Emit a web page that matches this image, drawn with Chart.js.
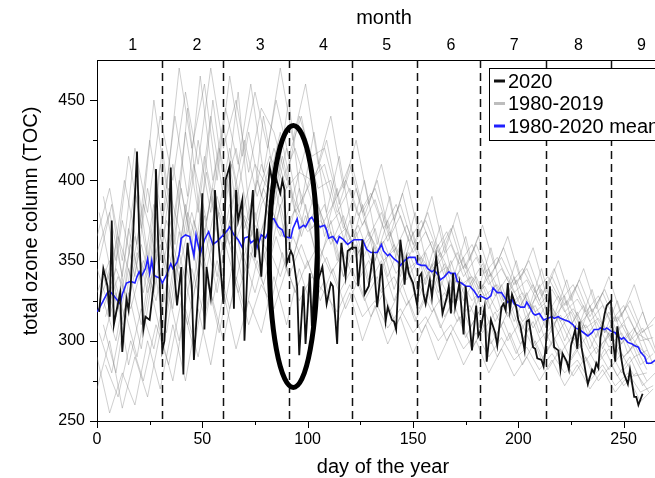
<!DOCTYPE html>
<html>
<head>
<meta charset="utf-8">
<script src="https://cdn.jsdelivr.net/npm/chart.js@4.4.1/dist/chart.umd.min.js"></script>
<style>
  html, body { margin: 0; padding: 0; background: #fff; overflow: hidden; }
  #wrap { width: 655px; height: 478px; overflow: hidden; }
  canvas { display: block; }
</style>
</head>
<body>
<div id="wrap"><canvas id="toc" width="670" height="478"></canvas></div>
<script>
// 2020 daily total ozone column
const days2020 = [1,3,5,6,7,8,9,11,12,14,15,16,19,20,22,23,25,27,28,29,31,32,33,35,36,38,40,41,42,43,45,46,48,50,51,52,54,55,56,58,60,61,63,65,66,67,69,70,72,74,75,76,78,79,82,84,85,87,88,89,90,92,93,95,96,98,99,101,102,104,105,107,109,111,112,114,115,116,118,119,121,123,124,126,127,129,131,133,135,137,138,140,141,142,144,145,146,147,148,150,152,153,154,155,156,158,159,160,161,163,164,166,167,168,169,170,172,174,175,177,178,180,181,182,184,185,187,189,190,192,193,194,195,196,197,199,200,201,203,204,205,207,208,209,211,212,213,215,216,217,219,220,221,223,224,225,227,228,229,230,232,233,235,236,237,238,239,241,242,244,245,246,247,249,250,252,253,255,256,257,259];
const toc2020 = [318,345,334,315,375,310,317,330,293,326,319,334,418,367,307,315,313,336,407,363,294,300,324,408,354,322,346,279,340,361,334,288,329,392,307,346,327,346,394,356,323,400,409,320,394,375,388,300,363,394,352,370,340,363,408,394,401,392,400,394,348,356,353,334,291,334,298,342,309,356,338,346,323,336,334,298,336,361,340,356,358,358,334,363,329,334,354,321,348,312,321,313,312,307,363,352,335,350,342,336,322,340,342,329,323,338,327,340,352,331,317,327,334,317,342,321,336,304,334,309,294,322,303,306,321,287,313,305,297,321,323,319,336,319,329,321,313,309,294,312,313,296,295,289,288,284,296,334,311,296,294,282,292,287,282,297,307,295,312,296,280,273,282,280,286,283,302,317,322,325,300,287,309,288,280,273,282,265,265,260,267];

// 1980-2020 mean
const meanDays = [0,1,3,5,6,8,11,12,14,16,18,19,20,21,23,24,25,26,27,28,30,31,33,35,36,38,39,40,42,44,46,47,49,51,53,55,57,60,62,63,65,67,69,70,72,73,75,76,78,80,81,83,84,86,88,89,92,93,95,96,98,99,101,102,104,106,108,109,110,112,114,115,117,119,122,123,125,126,128,130,133,135,136,138,139,141,143,144,146,148,151,152,154,156,157,159,160,162,163,165,167,168,170,171,173,175,177,179,181,182,185,187,188,190,192,193,195,197,198,200,201,203,204,205,207,208,210,212,214,216,217,219,220,222,224,226,227,229,231,233,235,236,238,239,241,242,244,246,247,249,250,252,254,255,257,258,260,261,263,265];
const tocMean = [318,320,325,330,331,328,323,329,336,337,336,340,343,340,345,351,342,350,341,340,339,336,341,348,345,349,354,364,366,365,353,366,354,363,368,360,362,366,369,371,366,363,358,364,365,361,363,358,366,364,367,376,376,371,369,365,364,370,376,370,372,371,376,377,372,371,372,369,364,365,361,365,363,360,363,363,363,363,357,355,355,360,356,353,354,351,349,347,350,352,352,348,347,347,345,343,344,341,338,340,343,342,342,337,336,334,334,331,327,328,326,328,333,330,330,328,324,326,323,322,321,321,324,322,317,316,317,313,314,315,314,315,314,313,312,310,308,307,305,303,305,307,307,308,307,308,306,305,303,301,302,299,298,297,296,293,290,286,286,288];

// individual years 1980-2019 (sampled)
const grayDaysA = [0,6,12,18,24,30,36,42,48,54,60,66,72,78,84,90,96,102,108,114,120,126,132,138,144,150,156,162,168,174,180,186,192,198,204,210,216,222,228,234,240,246,252,258,264];
const grayDaysB = [3,9,15,21,27,33,39,45,51,57,63,69,75,81,87,93,99,105,111,117,123,129,135,141,147,153,159,165,171,177,183,189,195,201,207,213,219,225,231,237,243,249,255,261];
const grayDaysC = [1,7,13,19,25,31,37,43,49,55,61,67,73,79,85,91,97,103,109,115,121,127,133,139,145,151,157,163,169,175,181,187,193,199,205,211,217,223,229,235,241,247,253,259,265];
const grayDaysD = [4,10,16,22,28,34,40,46,52,58,64,70,76,82,88,94,100,106,112,118,124,130,136,142,148,154,160,166,172,178,184,190,196,202,208,214,220,226,232,238,244,250,256,262];
const gray1 = [365,395,350,420,380,440,400,455,410,470,420,450,405,445,430,400,440,415,420,390,410,380,395,370,385,360,375,355,370,345,360,340,352,335,345,325,340,322,335,315,330,312,322,305,310];
const gray2 = [270,300,258,290,265,305,275,320,290,330,300,340,310,335,320,345,325,340,330,318,335,315,325,308,320,305,315,300,310,295,305,290,302,288,296,282,292,280,288,275,285,272,280,268,272];
const gray3 = [330,350,310,365,330,360,320,385,340,390,355,395,345,385,400,360,395,370,385,350,375,350,370,340,360,335,355,330,350,325,340,320,335,312,330,305,322,300,318,295,312,292,305,285,292];
const gray4 = [340,315,370,335,385,345,400,360,415,375,420,380,410,395,430,390,420,395,400,370,395,365,380,355,372,350,362,340,355,335,348,328,340,322,335,315,328,310,322,302,318,298,308,288];
const gray5 = [300,330,285,320,295,335,300,345,315,350,320,355,330,360,340,365,345,360,342,355,335,350,330,340,322,335,318,330,312,322,305,318,300,312,296,305,290,302,286,296,282,292,278,280];
const gray6 = [390,350,415,370,450,395,470,420,460,400,465,415,455,420,470,425,460,410,440,395,425,385,410,375,400,365,390,355,380,350,372,345,365,338,358,330,350,325,345,320,340,315,335,310];
const gray7 = [290,255,280,260,300,270,310,275,320,285,330,295,325,305,340,310,345,320,338,310,330,300,322,298,315,292,310,288,305,285,300,280,295,278,290,275,288,272,285,270,282,268,278,262,270];
const gray8 = [345,320,375,340,395,350,410,365,425,380,435,385,430,390,420,395,405,400,410,380,395,372,388,362,378,355,368,348,360,340,352,335,345,330,338,322,332,318,326,312,322,305,315,300,302];
const gray9 = [320,345,325,360,330,375,345,380,350,390,360,380,350,385,365,390,370,385,360,378,352,368,345,360,338,352,332,348,325,340,318,335,315,328,308,322,305,318,300,312,296,305,290,294];
const gray10 = [310,280,330,295,345,305,355,320,370,330,375,338,380,345,385,352,378,350,368,340,360,335,350,325,345,320,338,315,330,308,322,302,318,298,312,292,305,288,300,285,295,280,290,275];
const gray11 = [355,380,340,395,350,410,365,430,380,440,390,420,375,410,385,420,380,405,365,395,355,385,350,375,340,368,335,360,328,352,322,345,318,340,312,335,305,328,300,322,295,315,292,305,285];
const gray12 = [325,300,345,310,360,320,368,330,378,340,385,350,372,355,395,350,385,345,375,340,368,338,362,332,355,328,348,322,342,318,335,312,328,305,322,300,315,298,310,292,305,288,298,282];
const gray13 = [350,385,330,400,345,420,360,445,375,450,390,455,370,440,395,450,385,430,380,415,370,400,360,390,350,380,345,372,338,365,332,358,325,350,320,345,315,338,310,332,305,325,300,318,295];
const gray14 = [305,280,320,290,335,300,345,310,350,325,360,330,355,335,365,340,360,338,352,330,345,325,340,318,335,312,330,308,325,302,318,298,312,292,308,288,302,285,298,280,295,278,290,272,280];
const gray15 = [325,345,315,355,335,370,340,380,355,395,360,385,365,395,375,400,365,390,370,380,360,375,355,368,345,360,342,355,338,348,330,342,325,338,320,332,315,325,310,320,305,315,300,308,292];
const gray16 = [380,340,400,360,425,375,440,390,465,400,445,410,460,405,450,415,440,400,425,385,410,378,400,365,392,360,380,352,372,345,365,340,358,335,350,328,345,322,338,318,332,312,325,305,315];
const gray17 = [285,265,300,275,310,285,325,295,340,305,345,315,350,320,355,330,350,325,345,320,338,315,330,310,325,305,320,300,315,295,310,290,305,285,300,282,295,278,290,275,285,272,280,268];
const gray18 = [335,365,340,385,355,395,365,410,375,420,385,425,390,415,400,420,395,410,385,400,378,392,370,385,362,375,355,368,348,360,342,352,335,345,330,340,325,335,318,328,312,322,305,300];
const gray19 = [315,340,320,350,325,365,335,375,345,380,355,378,360,385,365,382,368,375,362,370,355,365,350,358,345,352,340,346,334,340,328,335,322,330,318,325,312,320,308,314,302,310,298,290];
const gray20 = [345,320,360,330,380,340,395,350,405,360,410,370,400,375,415,380,395,370,385,360,372,350,362,342,355,336,346,330,340,325,334,318,328,312,322,306,316,300,310,296,304,290,298,285];

// axes
const xTicks = [0, 50, 100, 150, 200, 250];
const xMinor = [25, 75, 125, 175, 225];
const yTicks = [250, 300, 350, 400, 450];
const yMinor = [275, 325, 375, 425];
const monthPos = [17, 47.5, 77.5, 107.5, 137.5, 168, 198, 228.5, 258.5];
const monthLabels = ['1', '2', '3', '4', '5', '6', '7', '8', '9'];
const monthBounds = [31, 60, 91, 121, 152, 182, 213, 244];

const legendItems = [
  { text: '2020', color: '#111111' },
  { text: '1980-2019', color: '#bdbdbd' },
  { text: '1980-2020 mean', color: '#1f1fff' }
];

const FONT = '"Liberation Sans", Arial, sans-serif';

function pairs(xs, ys) {
  return xs.map((x, i) => ({ x: x, y: ys[i] }));
}

function grayLine(xs, ys) {
  return {
    data: pairs(xs, ys),
    borderColor: 'rgba(130,130,130,0.38)',
    borderWidth: 1,
    pointRadius: 0
  };
}

// dashed month boundaries, drawn just under the mean line
const monthLines = {
  id: 'monthLines',
  beforeDatasetDraw(chart, args) {
    if (args.index !== 1) return;
    const { ctx, chartArea, scales } = chart;
    ctx.save();
    ctx.strokeStyle = '#111';
    ctx.lineWidth = 1.5;
    ctx.setLineDash([8, 5]);
    monthBounds.forEach(d => {
      const px = Math.round(scales.x.getPixelForValue(d)) + 0.5;
      ctx.beginPath();
      ctx.moveTo(px, chartArea.top);
      ctx.lineTo(px, chartArea.bottom);
      ctx.stroke();
    });
    ctx.restore();
  }
};

// ellipse around early April
const ellipseMark = { day: 93.2, toc: 352.5, halfDays: 11.4, halfToc: 81.6 };

const extras = {
  id: 'extras',
  afterDatasetsDraw(chart) {
    const { ctx, scales } = chart;
    const cx = scales.x.getPixelForValue(ellipseMark.day);
    const cy = scales.y.getPixelForValue(ellipseMark.toc);
    const rx = scales.x.getPixelForValue(ellipseMark.day + ellipseMark.halfDays) - cx;
    const ry = cy - scales.y.getPixelForValue(ellipseMark.toc + ellipseMark.halfToc);
    ctx.save();
    ctx.strokeStyle = '#000';
    ctx.lineWidth = 5;
    ctx.beginPath();
    ctx.ellipse(cx, cy, rx, ry, 0, 0, Math.PI * 2);
    ctx.stroke();
    ctx.restore();
  },
  afterDraw(chart) {
    const { ctx, chartArea, scales } = chart;
    ctx.save();
    ctx.strokeStyle = '#000';
    ctx.lineWidth = 1;
    // tick marks, pointing outwards
    const bottom = chartArea.bottom;
    xTicks.concat(xMinor).forEach(v => {
      const px = Math.round(scales.x.getPixelForValue(v)) + 0.5;
      const len = xTicks.includes(v) ? 7 : 4;
      ctx.beginPath();
      ctx.moveTo(px, bottom);
      ctx.lineTo(px, bottom + len);
      ctx.stroke();
    });
    const left = chartArea.left;
    yTicks.concat(yMinor).forEach(v => {
      const py = Math.round(scales.y.getPixelForValue(v)) + 0.5;
      const len = yTicks.includes(v) ? 7 : 4;
      ctx.beginPath();
      ctx.moveTo(left, py);
      ctx.lineTo(left - len, py);
      ctx.stroke();
    });

    // axis titles
    ctx.fillStyle = '#000';
    ctx.font = '20px ' + FONT;
    ctx.textAlign = 'center';
    ctx.textBaseline = 'middle';
    ctx.fillText('day of the year', 383, 467);
    ctx.fillText('month', 384, 18);
    ctx.save();
    ctx.translate(31, 221);
    ctx.rotate(-Math.PI / 2);
    ctx.fillText('total ozone column (TOC)', 0, 0);
    ctx.restore();

    // legend box
    ctx.fillStyle = '#fff';
    ctx.fillRect(489, 68, 300, 72);
    ctx.strokeRect(489.5, 68.5, 300, 72);
    ctx.font = '20px ' + FONT;
    ctx.textAlign = 'left';
    legendItems.forEach((item, i) => {
      const y = 81 + i * 22.5;
      ctx.strokeStyle = item.color;
      ctx.lineWidth = 3;
      ctx.beginPath();
      ctx.moveTo(494, y);
      ctx.lineTo(505, y);
      ctx.stroke();
      ctx.fillStyle = '#000';
      ctx.fillText(item.text, 508, y + 1);
    });
    ctx.restore();
  }
};

const tickFont = { family: FONT, size: 16 };

new Chart(document.getElementById('toc'), {
  type: 'line',
  data: {
    datasets: [
      { data: pairs(days2020, toc2020), borderColor: '#111', borderWidth: 1.8, pointRadius: 0 },
      { data: pairs(meanDays, tocMean), borderColor: '#1f1fff', borderWidth: 1.6, pointRadius: 0 },
      grayLine(grayDaysA, gray1),
      grayLine(grayDaysA, gray2),
      grayLine(grayDaysA, gray3),
      grayLine(grayDaysB, gray4),
      grayLine(grayDaysB, gray5),
      grayLine(grayDaysB, gray6),
      grayLine(grayDaysA, gray7),
      grayLine(grayDaysA, gray8),
      grayLine(grayDaysB, gray9),
      grayLine(grayDaysB, gray10),
      grayLine(grayDaysA, gray11),
      grayLine(grayDaysB, gray12),
      grayLine(grayDaysC, gray13),
      grayLine(grayDaysC, gray14),
      grayLine(grayDaysC, gray15),
      grayLine(grayDaysC, gray16),
      grayLine(grayDaysD, gray17),
      grayLine(grayDaysD, gray18),
      grayLine(grayDaysD, gray19),
      grayLine(grayDaysD, gray20)
    ]
  },
  options: {
    responsive: false,
    animation: false,
    layout: { padding: 0 },
    elements: { line: { tension: 0 } },
    plugins: { legend: { display: false }, tooltip: { enabled: false } },
    scales: {
      x: {
        type: 'linear', position: 'bottom', min: 0, max: 272,
        grid: { display: false, drawTicks: false },
        border: { display: true, color: '#000', width: 1 },
        ticks: { color: '#000', font: tickFont, padding: 9, autoSkip: false, maxRotation: 0 },
        afterBuildTicks: s => { s.ticks = xTicks.map(v => ({ value: v })); },
        afterFit: s => { s.height = 57; }
      },
      x2: {
        type: 'linear', position: 'top', min: 0, max: 272,
        grid: { display: false, drawTicks: false },
        border: { display: true, color: '#000', width: 1 },
        ticks: { color: '#000', font: tickFont, padding: 5, autoSkip: false, maxRotation: 0,
          callback: (v, i) => monthLabels[i] },
        afterBuildTicks: s => { s.ticks = monthPos.map(v => ({ value: v })); },
        afterFit: s => { s.height = 60; }
      },
      y: {
        min: 250, max: 475,
        grid: { display: false, drawTicks: false },
        border: { display: true, color: '#000', width: 1 },
        ticks: { color: '#000', font: tickFont, padding: 12, autoSkip: false },
        afterBuildTicks: s => { s.ticks = yTicks.map(v => ({ value: v })); },
        afterFit: s => { s.width = 97; }
      }
    }
  },
  plugins: [monthLines, extras]
});
</script>
</body>
</html>
